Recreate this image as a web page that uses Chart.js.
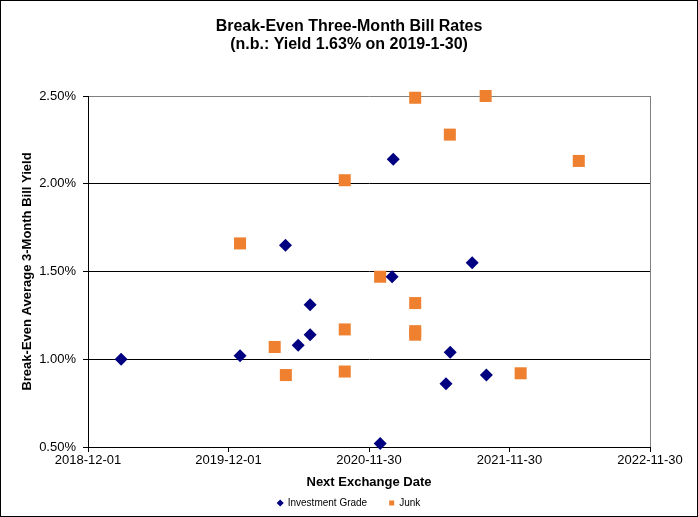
<!DOCTYPE html>
<html>
<head>
<meta charset="utf-8">
<script src="https://cdn.jsdelivr.net/npm/chart.js@4.4.1/dist/chart.umd.min.js"></script>
<style>
  html, body { margin: 0; padding: 0; background: #fff; }
  canvas { display: block; }
</style>
</head>
<body>
<canvas id="chart" width="698" height="517"></canvas>
<script>
// values (yield in %)
const AXIS_START = "2018-12-01";
const xTickDays = [0, 365, 730, 1095, 1460];
const yTicks = [0.5, 1.0, 1.5, 2.0, 2.5];

const igDates = ["2019-02-25", "2019-12-31", "2020-04-27", "2020-06-30", "2020-06-30",
  "2020-05-30", "2020-12-29", "2021-02-01", "2021-01-29", "2021-06-29",
  "2021-06-18", "2021-08-25", "2021-10-01"];
const igYields = [1.00, 1.02, 1.65, 1.31, 1.14, 1.08, 0.52, 2.14, 1.47, 1.04, 0.86, 1.55, 0.91];

const junkDates = ["2019-12-31", "2020-03-30", "2020-04-28", "2020-09-28", "2020-09-28",
  "2020-09-28", "2020-12-29", "2021-03-30", "2021-09-29", "2021-06-28",
  "2022-05-29", "2021-03-30", "2021-03-30", "2021-03-30", "2021-12-29"];
const junkYields = [1.66, 1.07, 0.91, 2.02, 1.17, 0.93, 1.47, 2.49, 2.50, 2.28, 2.13, 1.32, 1.16, 1.14, 0.92];

const DAY = 86400000;
const base = Date.parse(AXIS_START);

function toPoints(dates, ys) {
  return dates.map((d, i) => ({ x: (Date.parse(d) - base) / DAY, y: ys[i] }));
}

function dayLabel(v) {
  return new Date(base + v * DAY).toISOString().slice(0, 10);
}

const frame = {
  id: "frame",
  beforeDraw(chart) {
    const ctx = chart.ctx;
    ctx.save();
    ctx.fillStyle = "#fff";
    ctx.fillRect(0, 0, chart.width, chart.height);
    ctx.restore();
  },
  afterDraw(chart) {
    const ctx = chart.ctx;
    ctx.save();
    ctx.strokeStyle = "#000";
    ctx.lineWidth = 1;
    ctx.strokeRect(0.5, 0.5, chart.width - 1, chart.height - 1);
    ctx.restore();
  }
};

const FONT = "'Liberation Sans', Arial, sans-serif";

new Chart(document.getElementById("chart"), {
  type: "scatter",
  data: {
    datasets: [{
      label: "Investment Grade",
      data: toPoints(igDates, igYields),
      pointStyle: "rectRot",
      pointRadius: 6.5,
      pointHoverRadius: 6.5,
      backgroundColor: "#000080",
      borderColor: "#000080",
      borderWidth: 0,
      clip: false
    }, {
      label: "Junk",
      data: toPoints(junkDates, junkYields),
      pointStyle: "rect",
      pointRadius: 8.5,
      pointHoverRadius: 8.5,
      backgroundColor: "#EE8030",
      borderColor: "#EE8030",
      borderWidth: 0,
      clip: false
    }]
  },
  options: {
    responsive: false,
    animation: false,
    events: [],
    layout: { padding: { left: 0, right: 0, top: 0, bottom: -1 } },
    plugins: {
      title: {
        display: true,
        text: ["Break-Even Three-Month Bill Rates", "(n.b.: Yield 1.63% on 2019-1-30)"],
        color: "#000",
        font: { family: FONT, size: 16, weight: "bold", lineHeight: 1.125 },
        padding: { top: 18, bottom: 42 }
      },
      legend: {
        position: "bottom",
        labels: {
          usePointStyle: true,
          boxWidth: 5,
          boxHeight: 5,
          padding: 22,
          color: "#000",
          font: { family: FONT, size: 10 }
        }
      },
      tooltip: { enabled: false }
    },
    scales: {
      x: {
        type: "linear",
        min: xTickDays[0],
        max: xTickDays[xTickDays.length - 1],
        afterBuildTicks: (s) => { s.ticks = xTickDays.map((v) => ({ value: v })); },
        afterFit: (s) => { s.height = 29; },
        ticks: {
          padding: 1,
          color: "#000",
          maxRotation: 0,
          font: { family: FONT, size: 13 },
          callback: (v) => dayLabel(v)
        },
        grid: {
          color: (c) => (c.tick && c.tick.value === 1460 ? "#808080" : "rgba(0,0,0,0)"),
          tickColor: "#000",
          tickLength: 5,
          lineWidth: 1
        },
        border: { color: "#000", width: 1 },
        title: {
          display: true,
          text: "Next Exchange Date",
          color: "#000",
          font: { family: FONT, size: 13, weight: "bold" },
          padding: { top: 0, bottom: -14 }
        }
      },
      y: {
        min: yTicks[0],
        max: yTicks[yTicks.length - 1],
        afterBuildTicks: (s) => { s.ticks = yTicks.map((v) => ({ value: v })); },
        afterFit: (s) => { s.width = 88; },
        ticks: {
          padding: 7,
          color: "#000",
          font: { family: FONT, size: 13 },
          callback: (v) => v.toFixed(2) + "%"
        },
        grid: {
          color: (c) => (c.tick && c.tick.value === 2.5 ? "#808080" : "#000"),
          tickColor: "#000",
          tickLength: 5,
          lineWidth: 1
        },
        border: { color: "#000", width: 1 },
        title: {
          display: true,
          text: "Break-Even Average 3-Month Bill Yield",
          color: "#000",
          font: { family: FONT, size: 13, weight: "bold" },
          padding: { top: 20, bottom: 0 }
        }
      },
      // empty right-hand margin so the title and legend centre on the whole picture
      yRight: {
        type: "linear",
        position: "right",
        display: true,
        afterFit: (s) => { s.width = 48; },
        ticks: { display: false },
        grid: { display: false, drawOnChartArea: false },
        border: { display: false }
      }
    }
  },
  plugins: [frame]
});
</script>
</body>
</html>
